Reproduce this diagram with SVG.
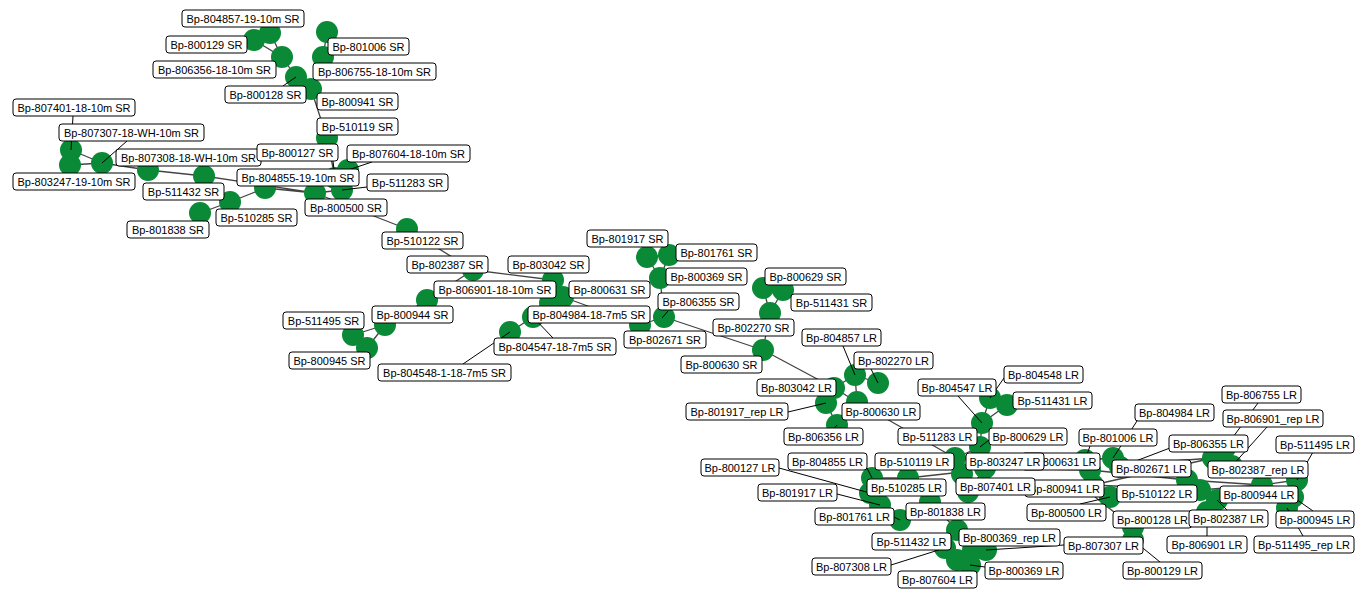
<svg xmlns="http://www.w3.org/2000/svg" width="1365" height="600" viewBox="0 0 1365 600">
<style>
.n{fill:#0a8a36}
.e{stroke:#444;stroke-width:1.3;fill:none}
.k{stroke:#000;stroke-width:1;fill:none}
.l rect{fill:#fff;stroke:#000;stroke-width:1}
.l text{font-family:"Liberation Sans",Arial,sans-serif;font-size:11px;fill:#000;text-anchor:middle}
</style>
<rect width="1365" height="600" fill="#fff"/>
<g id="connectors">
<path class="e" d="M254,40L282,57M270,33L282,57M282,57L296,77M296,77L311,89M327,32L323,57M323,57L311,89M311,89L327,138M71,150L102,163M70,165L102,163M71,150L70,165M102,163L148,170M148,170L204,176M204,176L315,193M200,213L230,202M230,202L265,188M265,188L315,193M327,138L335,178M335,178L348,170M315,193L342,190M315,193L407,229M407,229L473,270M473,270L553,280M473,270L427,300M427,300L385,325M385,325L353,335M385,325L367,348M353,335L367,348M553,280L563,297M563,297L550,303M550,303L533,317M533,317L510,332M563,297L640,325M647,257L669,255M647,257L660,278M669,255L660,278M660,278L664,317M664,317L640,325M664,317L763,350M763,288L783,290M763,288L770,313M783,290L770,313M770,313L763,350M763,350L834,388"/>
<path class="e" d="M855,375L834,388M855,375L857,402M878,383L855,375M834,388L826,403M826,403L837,425M834,388L857,402M857,402L955,458M982,423L990,398M982,423L1007,405M990,398L1007,405M982,423L980,447M980,447L955,458M955,458L962,472M962,472L908,478M908,478L872,478M908,478L930,502M930,502L900,520M872,478L870,493M870,493L880,505M930,502L957,530M957,530L973,550M973,550L957,560M957,560L970,565M947,548L957,560M973,550L986,550M985,468L1090,470M968,492L1093,485M980,447L985,468M985,468L968,492M1085,460L1113,458M1085,460L1090,470M1090,470L1187,480M1093,485L1200,490M1095,497L1133,527M1133,527L1133,540M1120,465L1213,458M1213,458L1225,448M1213,458L1215,462M1200,490L1217,500M1217,500L1207,512M1262,485L1297,480M1262,485L1293,497M1293,497L1292,512M1187,480L1262,485M1093,485L1213,458M1113,458L1120,465M1090,470L1093,485M1093,485L1095,497M1187,480L1200,490M1200,490L1262,485"/>
</g>
<g id="nodes">
<g id="n-804857-19-10m-SR"><circle class="n" cx="270" cy="33" r="11"/></g>
<g id="n-800129-SR"><circle class="n" cx="254" cy="40" r="11"/></g>
<g id="n-806356-18-10m-SR"><circle class="n" cx="282" cy="57" r="11"/></g>
<g id="n-801006-SR"><circle class="n" cx="327" cy="32" r="11"/></g>
<g id="n-806755-18-10m-SR"><circle class="n" cx="323" cy="57" r="11"/></g>
<g id="n-800128-SR"><circle class="n" cx="296" cy="77" r="11"/></g>
<g id="n-800941-SR"><circle class="n" cx="311" cy="89" r="11"/></g>
<g id="n-807401-18-10m-SR"><circle class="n" cx="71" cy="150" r="11"/></g>
<g id="n-510119-SR"><circle class="n" cx="327" cy="138" r="11"/></g>
<g id="n-807307-18-WH-10m-SR"><circle class="n" cx="102" cy="163" r="11"/></g>
<g id="n-807308-18-WH-10m-SR"><circle class="n" cx="148" cy="170" r="11"/></g>
<g id="n-800127-SR"><circle class="n" cx="335" cy="178" r="11"/></g>
<g id="n-807604-18-10m-SR"><circle class="n" cx="348" cy="170" r="11"/></g>
<g id="n-803247-19-10m-SR"><circle class="n" cx="70" cy="165" r="11"/></g>
<g id="n-804855-19-10m-SR"><circle class="n" cx="265" cy="188" r="11"/></g>
<g id="n-511432-SR"><circle class="n" cx="204" cy="176" r="11"/></g>
<g id="n-511283-SR"><circle class="n" cx="342" cy="190" r="11"/></g>
<g id="n-800500-SR"><circle class="n" cx="315" cy="193" r="11"/></g>
<g id="n-510285-SR"><circle class="n" cx="230" cy="202" r="11"/></g>
<g id="n-801838-SR"><circle class="n" cx="200" cy="213" r="11"/></g>
<g id="n-510122-SR"><circle class="n" cx="407" cy="229" r="11"/></g>
<g id="n-802387-SR"><circle class="n" cx="473" cy="270" r="11"/></g>
<g id="n-803042-SR"><circle class="n" cx="553" cy="280" r="11"/></g>
<g id="n-806901-18-10m-SR"><circle class="n" cx="427" cy="300" r="11"/></g>
<g id="n-800631-SR"><circle class="n" cx="563" cy="297" r="11"/></g>
<g id="n-511495-SR"><circle class="n" cx="353" cy="335" r="11"/></g>
<g id="n-800944-SR"><circle class="n" cx="385" cy="325" r="11"/></g>
<g id="n-804984-18-7m5-SR"><circle class="n" cx="550" cy="303" r="11"/></g>
<g id="n-800945-SR"><circle class="n" cx="367" cy="348" r="11"/></g>
<g id="n-804547-18-7m5-SR"><circle class="n" cx="533" cy="317" r="11"/></g>
<g id="n-804548-1-18-7m5-SR"><circle class="n" cx="510" cy="332" r="11"/></g>
<g id="n-801917-SR"><circle class="n" cx="647" cy="257" r="11"/></g>
<g id="n-801761-SR"><circle class="n" cx="669" cy="255" r="11"/></g>
<g id="n-800369-SR"><circle class="n" cx="660" cy="278" r="11"/></g>
<g id="n-806355-SR"><circle class="n" cx="664" cy="317" r="11"/></g>
<g id="n-802671-SR"><circle class="n" cx="640" cy="325" r="11"/></g>
<g id="n-800629-SR"><circle class="n" cx="763" cy="288" r="11"/></g>
<g id="n-511431-SR"><circle class="n" cx="783" cy="290" r="11"/></g>
<g id="n-802270-SR"><circle class="n" cx="770" cy="313" r="11"/></g>
<g id="n-800630-SR"><circle class="n" cx="763" cy="350" r="11"/></g>
<g id="n-804857-LR"><circle class="n" cx="855" cy="375" r="11"/></g>
<g id="n-802270-LR"><circle class="n" cx="878" cy="383" r="11"/></g>
<g id="n-803042-LR"><circle class="n" cx="834" cy="388" r="11"/></g>
<g id="n-801917_rep-LR"><circle class="n" cx="826" cy="403" r="11"/></g>
<g id="n-800630-LR"><circle class="n" cx="857" cy="402" r="11"/></g>
<g id="n-806356-LR"><circle class="n" cx="837" cy="425" r="11"/></g>
<g id="n-804547-LR"><circle class="n" cx="982" cy="423" r="11"/></g>
<g id="n-804548-LR"><circle class="n" cx="990" cy="398" r="11"/></g>
<g id="n-511431-LR"><circle class="n" cx="1007" cy="405" r="11"/></g>
<g id="n-511283-LR"><circle class="n" cx="955" cy="458" r="11"/></g>
<g id="n-800629-LR"><circle class="n" cx="980" cy="447" r="11"/></g>
<g id="n-801006-LR"><circle class="n" cx="1085" cy="460" r="11"/></g>
<g id="n-804984-LR"><circle class="n" cx="1113" cy="458" r="11"/></g>
<g id="n-806755-LR"><circle class="n" cx="1225" cy="448" r="11"/></g>
<g id="n-806901_rep-LR"><circle class="n" cx="1232" cy="466" r="11"/></g>
<g id="n-806355-LR"><circle class="n" cx="1120" cy="467" r="11"/></g>
<g id="n-511495-LR"><circle class="n" cx="1297" cy="480" r="11"/></g>
<g id="n-802671-LR"><circle class="n" cx="1187" cy="480" r="11"/></g>
<g id="n-802387_rep-LR"><circle class="n" cx="1213" cy="458" r="11"/></g>
<g id="n-800631-LR"><circle class="n" cx="1090" cy="470" r="11"/></g>
<g id="n-803247-LR"><circle class="n" cx="985" cy="468" r="11"/></g>
<g id="n-800941-LR"><circle class="n" cx="1093" cy="485" r="11"/></g>
<g id="n-807401-LR"><circle class="n" cx="968" cy="492" r="11"/></g>
<g id="n-510122-LR"><circle class="n" cx="1200" cy="490" r="11"/></g>
<g id="n-800944-LR"><circle class="n" cx="1262" cy="485" r="11"/></g>
<g id="n-800500-LR"><circle class="n" cx="1110" cy="497" r="11"/></g>
<g id="n-800128-LR"><circle class="n" cx="1133" cy="527" r="11"/></g>
<g id="n-802387-LR"><circle class="n" cx="1217" cy="500" r="11"/></g>
<g id="n-800945-LR"><circle class="n" cx="1293" cy="497" r="11"/></g>
<g id="n-806901-LR"><circle class="n" cx="1207" cy="512" r="11"/></g>
<g id="n-511495_rep-LR"><circle class="n" cx="1287" cy="508" r="11"/></g>
<g id="n-807307-LR"><circle class="n" cx="986" cy="550" r="11"/></g>
<g id="n-800129-LR"><circle class="n" cx="1133" cy="540" r="11"/></g>
<g id="n-800369_rep-LR"><circle class="n" cx="973" cy="550" r="11"/></g>
<g id="n-800369-LR"><circle class="n" cx="970" cy="565" r="11"/></g>
<g id="n-807604-LR"><circle class="n" cx="957" cy="560" r="11"/></g>
<g id="n-511432-LR"><circle class="n" cx="957" cy="530" r="11"/></g>
<g id="n-807308-LR"><circle class="n" cx="945" cy="548" r="11"/></g>
<g id="n-801838-LR"><circle class="n" cx="930" cy="502" r="11"/></g>
<g id="n-801761-LR"><circle class="n" cx="900" cy="520" r="11"/></g>
<g id="n-801917-LR"><circle class="n" cx="880" cy="505" r="11"/></g>
<g id="n-510285-LR"><circle class="n" cx="908" cy="478" r="11"/></g>
<g id="n-800127-LR"><circle class="n" cx="870" cy="493" r="11"/></g>
<g id="n-804855-LR"><circle class="n" cx="872" cy="478" r="11"/></g>
<g id="n-510119-LR"><circle class="n" cx="962" cy="474" r="11"/></g>
</g>
<g id="leaders">
<path class="k" d="M283,86L296,77M73,116L71,150M127,141L102,163M333,161L335,178M372,162L348,170M367,187L342,190M463,364L510,332M553,338L533,317M668,311L662,318M843,346L855,375M871,369L878,383M788,412L826,403M820,445L837,425M958,396L982,423M1004,378L990,398M989,440L980,447M1090,446L1085,460M1137,421L1113,458M1170,448L1120,467M1258,403L1225,448M1267,427L1232,466M1313,452L1297,480M1227,510L1217,500M1313,511L1293,497M1207,536L1207,512M1303,536L1287,508M1064,545L986,550M1160,562L1133,540M985,567L970,565M891,565L945,548M837,494L880,505M779,468L870,493M867,468L872,478M894,517L900,520M1080,504L1110,497"/>
</g>
<g id="labels">
<g class="l" id="l-804857-19-10m-SR"><rect x="182" y="10" width="122" height="17" rx="3"/><text x="243" y="22.5">Bp-804857-19-10m SR</text></g>
<g class="l" id="l-800129-SR"><rect x="166" y="36" width="81" height="17" rx="3"/><text x="206.5" y="48.5">Bp-800129 SR</text></g>
<g class="l" id="l-801006-SR"><rect x="328" y="38" width="81" height="17" rx="3"/><text x="368.5" y="50.5">Bp-801006 SR</text></g>
<g class="l" id="l-806356-18-10m-SR"><rect x="153" y="61" width="123" height="17" rx="3"/><text x="214.5" y="73.5">Bp-806356-18-10m SR</text></g>
<g class="l" id="l-806755-18-10m-SR"><rect x="313" y="63" width="123" height="17" rx="3"/><text x="374.5" y="75.5">Bp-806755-18-10m SR</text></g>
<g class="l" id="l-800128-SR"><rect x="225" y="86" width="81" height="17" rx="3"/><text x="265.5" y="98.5">Bp-800128 SR</text></g>
<g class="l" id="l-800941-SR"><rect x="317" y="93" width="81" height="17" rx="3"/><text x="357.5" y="105.5">Bp-800941 SR</text></g>
<g class="l" id="l-807401-18-10m-SR"><rect x="13" y="99" width="122" height="17" rx="3"/><text x="74" y="111.5">Bp-807401-18-10m SR</text></g>
<g class="l" id="l-510119-SR"><rect x="317" y="118" width="81" height="17" rx="3"/><text x="357.5" y="130.5">Bp-510119 SR</text></g>
<g class="l" id="l-807307-18-WH-10m-SR"><rect x="59" y="124" width="145" height="17" rx="3"/><text x="131.5" y="136.5">Bp-807307-18-WH-10m SR</text></g>
<g class="l" id="l-807308-18-WH-10m-SR"><rect x="116" y="149" width="145" height="17" rx="3"/><text x="188.5" y="161.5">Bp-807308-18-WH-10m SR</text></g>
<g class="l" id="l-800127-SR"><rect x="257" y="144" width="81" height="17" rx="3"/><text x="297.5" y="156.5">Bp-800127 SR</text></g>
<g class="l" id="l-807604-18-10m-SR"><rect x="347" y="145" width="123" height="17" rx="3"/><text x="408.5" y="157.5">Bp-807604-18-10m SR</text></g>
<g class="l" id="l-803247-19-10m-SR"><rect x="13" y="173" width="122" height="17" rx="3"/><text x="74" y="185.5">Bp-803247-19-10m SR</text></g>
<g class="l" id="l-804855-19-10m-SR"><rect x="237" y="169" width="122" height="17" rx="3"/><text x="298" y="181.5">Bp-804855-19-10m SR</text></g>
<g class="l" id="l-511432-SR"><rect x="143" y="183" width="81" height="17" rx="3"/><text x="183.5" y="195.5">Bp-511432 SR</text></g>
<g class="l" id="l-511283-SR"><rect x="367" y="174" width="81" height="17" rx="3"/><text x="407.5" y="186.5">Bp-511283 SR</text></g>
<g class="l" id="l-800500-SR"><rect x="305" y="199" width="82" height="17" rx="3"/><text x="346" y="211.5">Bp-800500 SR</text></g>
<g class="l" id="l-510285-SR"><rect x="216" y="209" width="81" height="17" rx="3"/><text x="256.5" y="221.5">Bp-510285 SR</text></g>
<g class="l" id="l-801838-SR"><rect x="127" y="221" width="82" height="17" rx="3"/><text x="168" y="233.5">Bp-801838 SR</text></g>
<g class="l" id="l-510122-SR"><rect x="382" y="232" width="81" height="17" rx="3"/><text x="422.5" y="244.5">Bp-510122 SR</text></g>
<g class="l" id="l-802387-SR"><rect x="407" y="256" width="81" height="17" rx="3"/><text x="447.5" y="268.5">Bp-802387 SR</text></g>
<g class="l" id="l-803042-SR"><rect x="508" y="256" width="81" height="17" rx="3"/><text x="548.5" y="268.5">Bp-803042 SR</text></g>
<g class="l" id="l-806901-18-10m-SR"><rect x="434" y="281" width="122" height="17" rx="3"/><text x="495" y="293.5">Bp-806901-18-10m SR</text></g>
<g class="l" id="l-800631-SR"><rect x="569" y="281" width="81" height="17" rx="3"/><text x="609.5" y="293.5">Bp-800631 SR</text></g>
<g class="l" id="l-511495-SR"><rect x="283" y="312" width="81" height="17" rx="3"/><text x="323.5" y="324.5">Bp-511495 SR</text></g>
<g class="l" id="l-800944-SR"><rect x="372" y="306" width="81" height="17" rx="3"/><text x="412.5" y="318.5">Bp-800944 SR</text></g>
<g class="l" id="l-804984-18-7m5-SR"><rect x="528" y="306" width="122" height="17" rx="3"/><text x="589" y="318.5">Bp-804984-18-7m5 SR</text></g>
<g class="l" id="l-800945-SR"><rect x="289" y="352" width="81" height="17" rx="3"/><text x="329.5" y="364.5">Bp-800945 SR</text></g>
<g class="l" id="l-804547-18-7m5-SR"><rect x="494" y="338" width="122" height="17" rx="3"/><text x="555" y="350.5">Bp-804547-18-7m5 SR</text></g>
<g class="l" id="l-804548-1-18-7m5-SR"><rect x="378" y="364" width="133" height="17" rx="3"/><text x="444.5" y="376.5">Bp-804548-1-18-7m5 SR</text></g>
<g class="l" id="l-801917-SR"><rect x="587" y="230" width="81" height="17" rx="3"/><text x="627.5" y="242.5">Bp-801917 SR</text></g>
<g class="l" id="l-801761-SR"><rect x="676" y="244" width="81" height="17" rx="3"/><text x="716.5" y="256.5">Bp-801761 SR</text></g>
<g class="l" id="l-800369-SR"><rect x="666" y="268" width="81" height="17" rx="3"/><text x="706.5" y="280.5">Bp-800369 SR</text></g>
<g class="l" id="l-806355-SR"><rect x="658" y="293" width="81" height="17" rx="3"/><text x="698.5" y="305.5">Bp-806355 SR</text></g>
<g class="l" id="l-802671-SR"><rect x="624" y="331" width="82" height="17" rx="3"/><text x="665" y="343.5">Bp-802671 SR</text></g>
<g class="l" id="l-800629-SR"><rect x="765" y="268" width="81" height="17" rx="3"/><text x="805.5" y="280.5">Bp-800629 SR</text></g>
<g class="l" id="l-511431-SR"><rect x="791" y="294" width="81" height="17" rx="3"/><text x="831.5" y="306.5">Bp-511431 SR</text></g>
<g class="l" id="l-802270-SR"><rect x="713" y="319" width="81" height="17" rx="3"/><text x="753.5" y="331.5">Bp-802270 SR</text></g>
<g class="l" id="l-800630-SR"><rect x="681" y="356" width="81" height="17" rx="3"/><text x="721.5" y="368.5">Bp-800630 SR</text></g>
<g class="l" id="l-804857-LR"><rect x="802" y="329" width="79" height="17" rx="3"/><text x="841.5" y="341.5">Bp-804857 LR</text></g>
<g class="l" id="l-802270-LR"><rect x="854" y="352" width="79" height="17" rx="3"/><text x="893.5" y="364.5">Bp-802270 LR</text></g>
<g class="l" id="l-803042-LR"><rect x="757" y="379" width="79" height="17" rx="3"/><text x="796.5" y="391.5">Bp-803042 LR</text></g>
<g class="l" id="l-801917_rep-LR"><rect x="686" y="403" width="102" height="17" rx="3"/><text x="737" y="415.5">Bp-801917_rep LR</text></g>
<g class="l" id="l-800630-LR"><rect x="842" y="403" width="78" height="17" rx="3"/><text x="881" y="415.5">Bp-800630 LR</text></g>
<g class="l" id="l-806356-LR"><rect x="784" y="428" width="79" height="17" rx="3"/><text x="823.5" y="440.5">Bp-806356 LR</text></g>
<g class="l" id="l-804547-LR"><rect x="918" y="379" width="78" height="17" rx="3"/><text x="957" y="391.5">Bp-804547 LR</text></g>
<g class="l" id="l-804548-LR"><rect x="1004" y="366" width="79" height="17" rx="3"/><text x="1043.5" y="378.5">Bp-804548 LR</text></g>
<g class="l" id="l-511431-LR"><rect x="1013" y="392" width="79" height="17" rx="3"/><text x="1052.5" y="404.5">Bp-511431 LR</text></g>
<g class="l" id="l-511283-LR"><rect x="898" y="428" width="79" height="17" rx="3"/><text x="937.5" y="440.5">Bp-511283 LR</text></g>
<g class="l" id="l-800629-LR"><rect x="989" y="428" width="78" height="17" rx="3"/><text x="1028" y="440.5">Bp-800629 LR</text></g>
<g class="l" id="l-801006-LR"><rect x="1079" y="429" width="78" height="17" rx="3"/><text x="1118" y="441.5">Bp-801006 LR</text></g>
<g class="l" id="l-804984-LR"><rect x="1135" y="404" width="79" height="17" rx="3"/><text x="1174.5" y="416.5">Bp-804984 LR</text></g>
<g class="l" id="l-806755-LR"><rect x="1222" y="386" width="79" height="17" rx="3"/><text x="1261.5" y="398.5">Bp-806755 LR</text></g>
<g class="l" id="l-806901_rep-LR"><rect x="1223" y="410" width="100" height="17" rx="3"/><text x="1273" y="422.5">Bp-806901_rep LR</text></g>
<g class="l" id="l-806355-LR"><rect x="1169" y="435" width="79" height="17" rx="3"/><text x="1208.5" y="447.5">Bp-806355 LR</text></g>
<g class="l" id="l-511495-LR"><rect x="1276" y="436" width="78" height="17" rx="3"/><text x="1315" y="448.5">Bp-511495 LR</text></g>
<g class="l" id="l-800631-LR"><rect x="1022" y="453" width="78" height="17" rx="3"/><text x="1061" y="465.5">Bp-800631 LR</text></g>
<g class="l" id="l-803247-LR"><rect x="966" y="453" width="78" height="17" rx="3"/><text x="1005" y="465.5">Bp-803247 LR</text></g>
<g class="l" id="l-802671-LR"><rect x="1112" y="460" width="79" height="17" rx="3"/><text x="1151.5" y="472.5">Bp-802671 LR</text></g>
<g class="l" id="l-802387_rep-LR"><rect x="1208" y="461" width="100" height="17" rx="3"/><text x="1258" y="473.5">Bp-802387_rep LR</text></g>
<g class="l" id="l-800941-LR"><rect x="1025" y="480" width="79" height="17" rx="3"/><text x="1064.5" y="492.5">Bp-800941 LR</text></g>
<g class="l" id="l-807401-LR"><rect x="956" y="478" width="79" height="17" rx="3"/><text x="995.5" y="490.5">Bp-807401 LR</text></g>
<g class="l" id="l-510122-LR"><rect x="1117" y="485" width="80" height="17" rx="3"/><text x="1157" y="497.5">Bp-510122 LR</text></g>
<g class="l" id="l-800944-LR"><rect x="1220" y="486" width="78" height="17" rx="3"/><text x="1259" y="498.5">Bp-800944 LR</text></g>
<g class="l" id="l-800500-LR"><rect x="1027" y="504" width="79" height="17" rx="3"/><text x="1066.5" y="516.5">Bp-800500 LR</text></g>
<g class="l" id="l-800128-LR"><rect x="1113" y="511" width="79" height="17" rx="3"/><text x="1152.5" y="523.5">Bp-800128 LR</text></g>
<g class="l" id="l-802387-LR"><rect x="1189" y="510" width="79" height="17" rx="3"/><text x="1228.5" y="522.5">Bp-802387 LR</text></g>
<g class="l" id="l-800945-LR"><rect x="1276" y="511" width="78" height="17" rx="3"/><text x="1315" y="523.5">Bp-800945 LR</text></g>
<g class="l" id="l-806901-LR"><rect x="1167" y="536" width="80" height="17" rx="3"/><text x="1207" y="548.5">Bp-806901 LR</text></g>
<g class="l" id="l-511495_rep-LR"><rect x="1254" y="536" width="100" height="17" rx="3"/><text x="1304" y="548.5">Bp-511495_rep LR</text></g>
<g class="l" id="l-807307-LR"><rect x="1064" y="537" width="79" height="17" rx="3"/><text x="1103.5" y="549.5">Bp-807307 LR</text></g>
<g class="l" id="l-800129-LR"><rect x="1123" y="562" width="79" height="17" rx="3"/><text x="1162.5" y="574.5">Bp-800129 LR</text></g>
<g class="l" id="l-800369_rep-LR"><rect x="959" y="529" width="101" height="17" rx="3"/><text x="1009.5" y="541.5">Bp-800369_rep LR</text></g>
<g class="l" id="l-800369-LR"><rect x="985" y="562" width="78" height="17" rx="3"/><text x="1024" y="574.5">Bp-800369 LR</text></g>
<g class="l" id="l-807604-LR"><rect x="898" y="571" width="79" height="17" rx="3"/><text x="937.5" y="583.5">Bp-807604 LR</text></g>
<g class="l" id="l-511432-LR"><rect x="872" y="533" width="79" height="17" rx="3"/><text x="911.5" y="545.5">Bp-511432 LR</text></g>
<g class="l" id="l-807308-LR"><rect x="812" y="558" width="79" height="17" rx="3"/><text x="851.5" y="570.5">Bp-807308 LR</text></g>
<g class="l" id="l-801838-LR"><rect x="906" y="503" width="79" height="17" rx="3"/><text x="945.5" y="515.5">Bp-801838 LR</text></g>
<g class="l" id="l-801761-LR"><rect x="815" y="508" width="79" height="17" rx="3"/><text x="854.5" y="520.5">Bp-801761 LR</text></g>
<g class="l" id="l-801917-LR"><rect x="758" y="484" width="79" height="17" rx="3"/><text x="797.5" y="496.5">Bp-801917 LR</text></g>
<g class="l" id="l-510285-LR"><rect x="867" y="479" width="79" height="17" rx="3"/><text x="906.5" y="491.5">Bp-510285 LR</text></g>
<g class="l" id="l-800127-LR"><rect x="701" y="459" width="78" height="17" rx="3"/><text x="740" y="471.5">Bp-800127 LR</text></g>
<g class="l" id="l-804855-LR"><rect x="788" y="453" width="79" height="17" rx="3"/><text x="827.5" y="465.5">Bp-804855 LR</text></g>
<g class="l" id="l-510119-LR"><rect x="875" y="453" width="79" height="17" rx="3"/><text x="914.5" y="465.5">Bp-510119 LR</text></g>
</g>
</svg>
